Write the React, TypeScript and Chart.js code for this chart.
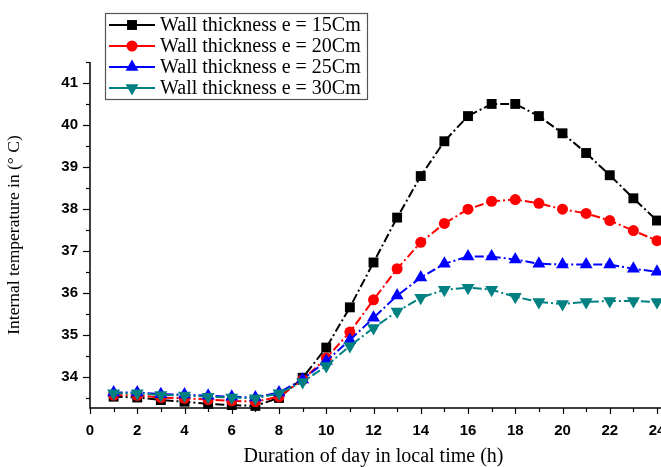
import React, { useEffect, useRef } from "react";
import { Chart, registerables } from "chart.js";

Chart.register(...registerables);

const hours = [1, 2, 3, 4, 5, 6, 7, 8, 9, 10, 11, 12, 13, 14, 15, 16, 17, 18, 19, 20, 21, 22, 23, 24];
const e15 = [33.52, 33.5, 33.44, 33.4, 33.35, 33.32, 33.3, 33.49, 33.97, 34.69, 35.65, 36.72, 37.79, 38.78, 39.61, 40.21, 40.5, 40.5, 40.21, 39.8, 39.33, 38.8, 38.25, 37.72];
const e20 = [33.56, 33.55, 33.5, 33.48, 33.45, 33.42, 33.4, 33.52, 33.92, 34.44, 35.06, 35.83, 36.57, 37.2, 37.65, 37.99, 38.18, 38.22, 38.13, 37.99, 37.89, 37.72, 37.48, 37.24];
const e25 = [33.62, 33.62, 33.58, 33.57, 33.54, 33.52, 33.5, 33.62, 33.93, 34.37, 34.87, 35.4, 35.93, 36.36, 36.69, 36.86, 36.86, 36.79, 36.69, 36.67, 36.67, 36.67, 36.57, 36.5];
const e30 = [33.6, 33.6, 33.56, 33.55, 33.52, 33.5, 33.48, 33.6, 33.87, 34.25, 34.73, 35.16, 35.55, 35.88, 36.07, 36.12, 36.07, 35.9, 35.78, 35.73, 35.78, 35.8, 35.8, 35.78];
const seriesLabels = [
  "Wall thickness e = 15Cm",
  "Wall thickness e = 20Cm",
  "Wall thickness e = 25Cm",
  "Wall thickness e = 30Cm",
];
const xTitle = "Duration of day in local time (h)";
const yTitle = "Internal temperature in (\u00B0 C)";

const colors = ["#000000", "#ff0000", "#0000ff", "#008080"];
const shapes = ["rect", "circle", "triangle", "triangle"];
const radii = [7, 5.5, 7.5, 7.5];
const rotations = [0, 0, 0, 180];
const dash = [9, 3, 2, 3];

function drawMarker(ctx: CanvasRenderingContext2D, shape: string, r: number, rot: number, x: number, y: number) {
  ctx.beginPath();
  if (shape === "rect") {
    const s = Math.SQRT1_2 * r;
    ctx.rect(x - s, y - s, 2 * s, 2 * s);
  } else if (shape === "circle") {
    ctx.arc(x, y, r, 0, Math.PI * 2);
  } else {
    const a = (rot * Math.PI) / 180;
    for (let k = 0; k < 3; k++) {
      const ang = a + (k * 2 * Math.PI) / 3;
      const px = x + Math.sin(ang) * r;
      const py = y - Math.cos(ang) * r;
      if (k === 0) ctx.moveTo(px, py);
      else ctx.lineTo(px, py);
    }
    ctx.closePath();
  }
  ctx.fill();
}

const tickPlugin = {
  id: "customTicks",
  afterDraw(chart: any) {
    const ctx = chart.ctx;
    const xs = chart.scales.x;
    const ys = chart.scales.y;
    const area = chart.chartArea;
    ctx.save();
    ctx.strokeStyle = "#000";
    ctx.lineWidth = 1.5;
    ctx.beginPath();
    ctx.moveTo(area.left, area.top);
    ctx.lineTo(area.left, area.bottom);
    ctx.lineTo(chart.width, area.bottom);
    ctx.stroke();
    ctx.lineWidth = 1.2;
    for (let v = 0; v <= 24; v += 1) {
      const px = Math.round(xs.getPixelForValue(v)) + 0.5;
      const len = v % 2 === 0 ? 6 : 4;
      ctx.beginPath();
      ctx.moveTo(px, area.bottom);
      ctx.lineTo(px, area.bottom + len);
      ctx.stroke();
    }
    for (let v = 33.5; v <= 41.5; v += 0.5) {
      const py = Math.round(ys.getPixelForValue(v)) + 0.5;
      const len = Number.isInteger(v) ? 7 : 4;
      ctx.beginPath();
      ctx.moveTo(area.left, py);
      ctx.lineTo(area.left - len, py);
      ctx.stroke();
    }
    // legend
    const bx = 105, by = 13, bw = 262, bh = 86;
    ctx.fillStyle = "#fff";
    ctx.fillRect(bx, by, bw, bh);
    ctx.strokeStyle = "#555";
    ctx.lineWidth = 1.2;
    ctx.strokeRect(bx + 0.5, by + 0.5, bw, bh);
    const rowsY = [25, 46, 67, 88];
    ctx.font = "20px 'Liberation Serif', 'Times New Roman', serif";
    ctx.textBaseline = "middle";
    ctx.textAlign = "left";
    for (let i = 0; i < 4; i++) {
      const y = rowsY[i];
      ctx.strokeStyle = colors[i];
      ctx.lineWidth = 2;
      ctx.setLineDash([]);
      ctx.beginPath();
      ctx.moveTo(109, y);
      ctx.lineTo(155, y);
      ctx.stroke();
      ctx.fillStyle = colors[i];
      drawMarker(ctx, shapes[i], radii[i], rotations[i], 132, y);
      ctx.fillStyle = "#000";
      ctx.fillText(seriesLabels[i], 160, y + 1);
    }
    ctx.restore();
  },
};

export default function App() {
  const ref = useRef<HTMLCanvasElement>(null);
  useEffect(() => {
    document.body.style.margin = "0";
    const seriesData = [e15, e20, e25, e30];
    const chart = new Chart(ref.current as HTMLCanvasElement, {
      type: "line",
      data: {
        datasets: seriesData.map((arr, i) => ({
          label: seriesLabels[i],
          data: hours.map((h, k) => ({ x: h, y: arr[k] })),
          borderColor: colors[i],
          backgroundColor: colors[i],
          borderWidth: 2,
          borderDash: dash,
          pointStyle: shapes[i] as any,
          pointRadius: radii[i],
          pointRotation: rotations[i],
          pointBorderWidth: 0,
          pointBackgroundColor: colors[i],
          order: 3 - i,
          clip: false as any,
        })),
      },
      options: {
        animation: false,
        responsive: false,
        layout: { autoPadding: false, padding: { top: 62, right: 4, left: 0, bottom: 0 } },
        plugins: { legend: { display: false }, tooltip: { enabled: false } },
        scales: {
          x: {
            type: "linear",
            min: 0,
            max: 24,
            border: { display: false },
            grid: { display: false, drawTicks: false },
            ticks: {
              stepSize: 2,
              padding: 14,
              color: "#000",
              maxRotation: 0,
              font: { family: "'Liberation Sans', Arial, sans-serif", size: 15, weight: "bold" },
            },
            title: {
              display: true,
              text: xTitle,
              color: "#000",
              padding: { top: 4, bottom: 0 },
              font: { family: "'Liberation Serif', 'Times New Roman', serif", size: 20, lineHeight: 1.0 },
            },
            afterFit: (s: any) => {
              s.height = 59;
              s.paddingLeft = 0;
              s.paddingRight = 0;
            },
          },
          y: {
            type: "linear",
            min: 33.25,
            max: 41.5,
            border: { display: false },
            grid: { display: false, drawTicks: false },
            ticks: {
              stepSize: 1,
              padding: 12,
              color: "#000",
              font: { family: "'Liberation Sans', Arial, sans-serif", size: 15, weight: "bold" },
              callback: (v: any) => (Number.isInteger(v) ? String(v) : ""),
            },
            afterBuildTicks: (s: any) => {
              s.ticks = [34, 35, 36, 37, 38, 39, 40, 41].map((v) => ({ value: v }));
            },
            title: {
              display: true,
              text: yTitle,
              color: "#000",
              padding: { top: 4, bottom: 10 },
              font: { family: "'Liberation Serif', 'Times New Roman', serif", size: 17.5 },
            },
            afterFit: (s: any) => {
              s.width = 90;
              s.paddingTop = 0;
              s.paddingBottom = 0;
            },
          },
        },
      },
      plugins: [tickPlugin],
    });
    return () => chart.destroy();
  }, []);
  return (
    <div style={{ width: 661, height: 467, position: "relative" }}>
      <canvas ref={ref} width={661} height={467} style={{ display: "block" }} />
    </div>
  );
}
